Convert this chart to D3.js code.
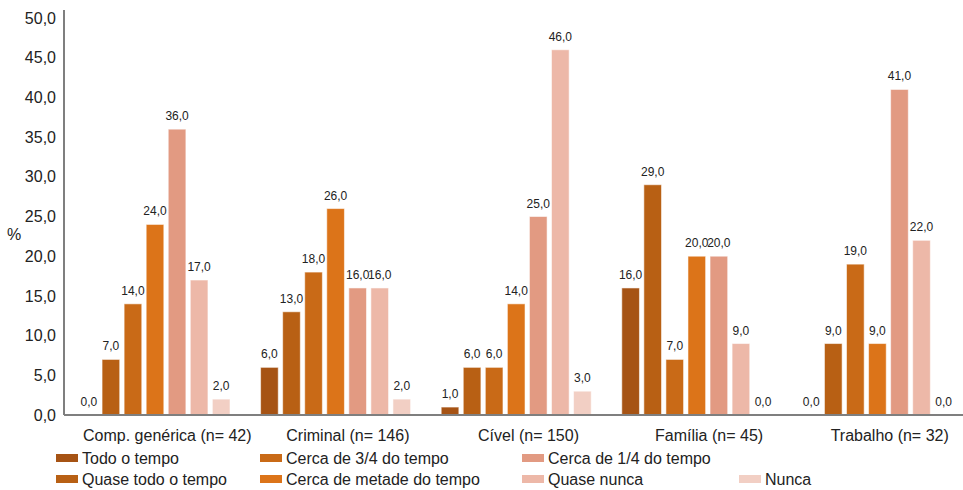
<!DOCTYPE html>
<html>
<head>
<meta charset="utf-8">
<script src="https://cdn.jsdelivr.net/npm/d3@7"></script>
<style>
  html, body { margin: 0; padding: 0; background: #fff; }
  svg { display: block; font-family: "Liberation Sans", Arial, sans-serif; }
</style>
</head>
<body>
<svg id="chart" width="963" height="490"></svg>
<script>
// ---- data ----
const categories = ["Comp. genérica (n= 42)", "Criminal (n= 146)", "Cível (n= 150)", "Família (n= 45)", "Trabalho (n= 32)"];
const seriesNames = ["Todo o tempo", "Quase todo o tempo", "Cerca de 3/4 do tempo", "Cerca de metade do tempo", "Cerca de 1/4 do tempo", "Quase nunca", "Nunca"];
const todoOTempo       = [0, 6, 1, 16, 0];
const quaseTodoOTempo  = [7, 13, 6, 29, 9];
const cerca34          = [14, 18, 6, 7, 19];
const cercaMetade      = [24, 26, 14, 20, 9];
const cerca14          = [36, 16, 25, 20, 41];
const quaseNunca       = [17, 16, 46, 9, 22];
const nunca            = [2, 2, 3, 0, 0];
const yTicks = [0, 5, 10, 15, 20, 25, 30, 35, 40, 45, 50];
const seriesColors = ["#A65314", "#B86014", "#C96A17", "#DC7419", "#E29A82", "#EDB8A8", "#F2CFC4"];

const seriesValues = [todoOTempo, quaseTodoOTempo, cerca34, cercaMetade, cerca14, quaseNunca, nunca];

// ---- layout ----
const svg = d3.select("#chart");
const x0 = d3.scaleBand().domain(categories).range([64, 967]).padding(0);
const x1 = d3.scaleBand().domain(d3.range(seriesNames.length)).range([16, 166]).paddingInner(0.2).paddingOuter(0);
const y = d3.scaleLinear().domain([0, 50]).range([415, 18]);
const fmt = v => d3.format(".1f")(v).replace(".", ",");

// y axis
const yAxis = d3.axisLeft(y).tickValues(yTicks).tickFormat(fmt).tickSize(0).tickPadding(8);
const gy = svg.append("g").attr("transform", "translate(64,0)").call(yAxis);
gy.select(".domain").remove();
gy.selectAll("text").attr("font-size", 16).attr("fill", "#222").attr("font-family", "Liberation Sans, Arial, sans-serif");

svg.append("line").attr("x1", 64).attr("x2", 64).attr("y1", 10).attr("y2", 415)
  .attr("stroke", "#7f7f7f").attr("stroke-width", 2);

svg.append("text").attr("x", 14).attr("y", 240).attr("text-anchor", "middle")
  .attr("font-size", 16).attr("fill", "#222").text("%");

// bars
const groups = svg.selectAll("g.grp").data(categories).join("g")
  .attr("class", "grp").attr("transform", c => `translate(${x0(c)},0)`);

groups.each(function(c, ci) {
  const g = d3.select(this);
  const recs = seriesValues.map((arr, si) => ({ si, v: arr[ci] }));
  g.selectAll("rect").data(recs).join("rect")
    .attr("x", d => x1(d.si))
    .attr("width", x1.bandwidth())
    .attr("y", d => y(d.v))
    .attr("height", d => y(0) - y(d.v))
    .attr("fill", d => seriesColors[d.si])
    .attr("stroke", "rgba(255,255,255,0.55)")
    .attr("stroke-width", 1);
  g.selectAll("text.val").data(recs).join("text")
    .attr("class", "val")
    .attr("x", d => x1(d.si) + x1.bandwidth() / 2)
    .attr("y", d => y(d.v) - 9)
    .attr("text-anchor", "middle")
    .attr("font-size", 12).attr("fill", "#222")
    .text(d => fmt(d.v));
});

// x axis line
svg.append("line").attr("x1", 64).attr("x2", 963).attr("y1", 415).attr("y2", 415)
  .attr("stroke", "#7f7f7f").attr("stroke-width", 2);

// x labels
svg.selectAll("text.cat").data(categories).join("text")
  .attr("class", "cat")
  .attr("x", c => x0(c) + x0.bandwidth() / 2 + 13)
  .attr("y", 441)
  .attr("text-anchor", "middle")
  .attr("font-size", 16).attr("fill", "#222")
  .text(c => c);

// legend
const legCols = [56, 260, 522, 739];
const legRows = [458, 479];
const legPos = (i) => {
  const col = Math.floor(i / 2);
  const row = i === seriesNames.length - 1 ? 1 : i % 2;
  return [legCols[col], legRows[row]];
};
const leg = svg.selectAll("g.leg").data(seriesNames).join("g")
  .attr("class", "leg")
  .attr("transform", (d, i) => `translate(${legPos(i)[0]},${legPos(i)[1]})`);
leg.append("rect").attr("x", 0).attr("y", -4).attr("width", 22).attr("height", 8)
  .attr("fill", (d, i) => seriesColors[i]);
leg.append("text").attr("x", 26).attr("y", 6).attr("font-size", 16).attr("fill", "#222")
  .text(d => d);
</script>
</body>
</html>
